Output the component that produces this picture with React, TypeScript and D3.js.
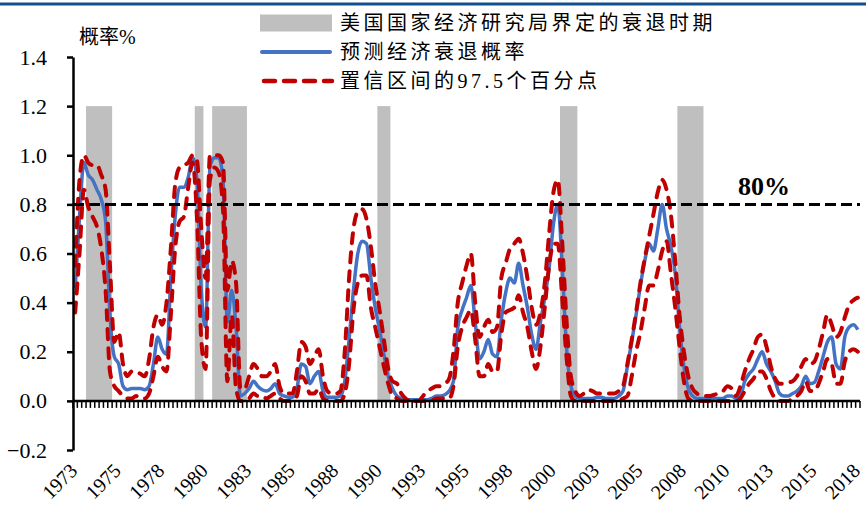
import React, { useEffect, useRef } from 'react';
import * as d3 from 'd3';

// quarterly categories 1973Q1 .. 2018Q1
const quarters: string[] = [];
for (let yr = 1973; yr <= 2018; yr++) {
  for (let q = 1; q <= 4; q++) {
    if (yr === 2018 && q > 1) break;
    quarters.push(`${yr}Q${q}`);
  }
}

const tickYears = ['1973', '1975', '1978', '1980', '1983', '1985', '1988', '1990', '1993', '1995',
  '1998', '2000', '2003', '2005', '2008', '2010', '2013', '2015', '2018'];

const yTicks = [-0.2, 0, 0.2, 0.4, 0.6, 0.8, 1.0, 1.2, 1.4];

// NBER recession periods (as drawn)
const recessionStart = ['1973Q4', '1980Q1', '1981Q1', '1990Q3', '2001Q1', '2007Q4'];
const recessionEnd = ['1975Q1', '1980Q2', '1982Q4', '1991Q1', '2001Q4', '2009Q1'];
const recessionHeight = 1.2;

// predicted recession probability
const prob = [
  0.46, 0.75, 0.97, 0.92, 0.90, 0.86, 0.82, 0.73, 0.35, 0.18,
  0.15, 0.06, 0.045, 0.05, 0.05, 0.05, 0.045, 0.06, 0.15, 0.26,
  0.21, 0.19, 0.50, 0.75, 0.87, 0.87, 0.91, 0.99, 0.90, 0.45,
  0.30, 0.95, 0.99, 0.99, 0.90, 0.32, 0.45, 0.30, 0.02, 0.03,
  0.05, 0.08, 0.06, 0.045, 0.04, 0.05, 0.07, 0.03, 0.02, 0.015,
  0.015, 0.05, 0.15, 0.14, 0.07, 0.10, 0.12, 0.04, 0.015, 0.015,
  0.015, 0.02, 0.08, 0.25, 0.45, 0.60, 0.65, 0.64, 0.50, 0.38,
  0.29, 0.19, 0.10, 0.05, 0.02, 0.01, 0.005, 0.005, 0.005, 0.005,
  0.005, 0.005, 0.01, 0.02, 0.02, 0.025, 0.04, 0.08, 0.30, 0.37,
  0.42, 0.47, 0.32, 0.17, 0.20, 0.25, 0.19, 0.18, 0.33, 0.44,
  0.50, 0.48, 0.56, 0.47, 0.38, 0.27, 0.21, 0.32, 0.42, 0.54,
  0.72, 0.80, 0.55, 0.22, 0.06, 0.02, 0.01, 0.01, 0.01, 0.01,
  0.015, 0.015, 0.01, 0.01, 0.01, 0.02, 0.04, 0.14, 0.24, 0.35,
  0.47, 0.57, 0.64, 0.61, 0.70, 0.80, 0.70, 0.63, 0.52, 0.30,
  0.14, 0.05, 0.02, 0.01, 0.01, 0.01, 0.01, 0.01, 0.01, 0.01,
  0.02, 0.02, 0.01, 0.02, 0.08, 0.11, 0.13, 0.17, 0.20, 0.15,
  0.12, 0.08, 0.03, 0.02, 0.02, 0.03, 0.04, 0.06, 0.10, 0.07,
  0.075, 0.12, 0.18, 0.24, 0.26, 0.15, 0.13, 0.26, 0.30, 0.31, 0.29,
];

// confidence band, upper
const upper = [
  0.55, 0.90, 1.00, 0.97, 0.96, 0.96, 0.92, 0.86, 0.55, 0.24,
  0.28, 0.15, 0.10, 0.12, 0.12, 0.11, 0.10, 0.17, 0.30, 0.35,
  0.31, 0.40, 0.62, 0.88, 0.95, 0.96, 0.97, 1.00, 0.98, 0.70,
  0.50, 1.00, 1.00, 1.00, 0.97, 0.45, 0.57, 0.48, 0.05, 0.05,
  0.10, 0.15, 0.13, 0.10, 0.10, 0.12, 0.15, 0.06, 0.03, 0.03,
  0.03, 0.12, 0.24, 0.22, 0.15, 0.18, 0.21, 0.10, 0.04, 0.03,
  0.03, 0.04, 0.20, 0.50, 0.70, 0.77, 0.78, 0.74, 0.63, 0.48,
  0.37, 0.25, 0.13, 0.08, 0.07, 0.03, 0.01, 0.00, 0.00, 0.00,
  0.02, 0.04, 0.05, 0.06, 0.06, 0.07, 0.09, 0.20, 0.40, 0.48,
  0.55, 0.60, 0.40, 0.26, 0.30, 0.33, 0.28, 0.30, 0.50, 0.56,
  0.62, 0.64, 0.66, 0.60, 0.50, 0.38, 0.31, 0.36, 0.48, 0.68,
  0.85, 0.90, 0.65, 0.33, 0.10, 0.04, 0.02, 0.03, 0.045, 0.04,
  0.03, 0.03, 0.03, 0.03, 0.03, 0.04, 0.06, 0.15, 0.25, 0.36,
  0.48, 0.58, 0.67, 0.76, 0.85, 0.90, 0.86, 0.76, 0.57, 0.35,
  0.20, 0.10, 0.05, 0.03, 0.02, 0.02, 0.02, 0.025, 0.03, 0.04,
  0.06, 0.05, 0.02, 0.06, 0.12, 0.17, 0.21, 0.26, 0.27, 0.22,
  0.14, 0.09, 0.07, 0.07, 0.075, 0.08, 0.10, 0.14, 0.17, 0.15,
  0.16, 0.21, 0.28, 0.35, 0.31, 0.26, 0.28, 0.34, 0.39, 0.41, 0.42,
];

// confidence band, lower
const lower = [
  0.36, 0.60, 0.86, 0.79, 0.75, 0.71, 0.62, 0.45, 0.12, 0.06,
  0.04, 0.02, 0.01, 0.01, 0.02, 0.01, 0.01, 0.03, 0.10, 0.18,
  0.14, 0.12, 0.35, 0.62, 0.73, 0.75, 0.87, 0.97, 0.75, 0.25,
  0.13, 0.90, 0.95, 0.93, 0.78, 0.08, 0.35, 0.05, 0.00, 0.00,
  0.01, 0.03, 0.02, 0.02, 0.01, 0.02, 0.03, 0.01, 0.00, 0.00,
  0.00, 0.02, 0.10, 0.08, 0.03, 0.03, 0.05, 0.01, 0.00, 0.00,
  0.00, 0.00, 0.03, 0.15, 0.37, 0.48, 0.51, 0.51, 0.38, 0.30,
  0.22, 0.14, 0.07, 0.02, 0.01, 0.00, 0.00, 0.00, 0.00, 0.00,
  0.00, 0.00, 0.00, 0.01, 0.01, 0.01, 0.01, 0.06, 0.22, 0.30,
  0.34, 0.37, 0.25, 0.10, 0.10, 0.15, 0.12, 0.12, 0.27, 0.36,
  0.37, 0.38, 0.43, 0.36, 0.30, 0.20, 0.13, 0.22, 0.38, 0.55,
  0.64, 0.64, 0.42, 0.18, 0.02, 0.00, 0.00, 0.00, 0.00, 0.00,
  0.00, 0.00, 0.00, 0.00, 0.00, 0.00, 0.01, 0.02, 0.10, 0.20,
  0.28, 0.38, 0.47, 0.47, 0.53, 0.61, 0.65, 0.52, 0.38, 0.22,
  0.08, 0.01, 0.00, 0.00, 0.00, 0.00, 0.00, 0.00, 0.00, 0.00,
  0.00, 0.00, 0.00, 0.01, 0.04, 0.07, 0.09, 0.12, 0.12, 0.09,
  0.04, 0.01, 0.00, 0.00, 0.00, 0.01, 0.02, 0.04, 0.08, 0.04,
  0.04, 0.07, 0.12, 0.17, 0.15, 0.07, 0.07, 0.16, 0.20, 0.21, 0.20,
];

const threshold = 0.8;

const legendItems = ['美国国家经济研究局界定的衰退时期', '预测经济衰退概率', '置信区间的97.5个百分点'];

const SERIF = "'Liberation Serif', 'Times New Roman', serif";
const CJK = "'Liberation Serif', 'Noto Sans CJK SC', sans-serif";

const RecessionChart = () => {
  const chartRef = useRef<SVGSVGElement>(null);

  useEffect(() => {
    const svg = d3.select(chartRef.current)
      .attr('width', 866)
      .attr('height', 507);

    svg.selectAll('*').remove();

    svg.append('rect').attr('width', 866).attr('height', 507).attr('fill', '#fff');

    // header rule
    svg.append('rect')
      .attr('x', 0).attr('y', 2.5).attr('width', 866).attr('height', 3)
      .attr('fill', '#11508f');

    const x = d3.scaleBand<string>()
      .domain(quarters)
      .range([73, 860])
      .padding(0);
    const bw = x.bandwidth();
    const cx = (i: number) => (x(quarters[i]) as number) + bw / 2;

    const y = d3.scaleLinear()
      .domain([-0.2, 1.4])
      .range([450, 57]);

    // recession shading
    svg.append('g')
      .selectAll('rect')
      .data(recessionStart)
      .enter().append('rect')
      .attr('x', d => x(d) as number)
      .attr('width', (d, i) => (x(recessionEnd[i]) as number) + bw - (x(d) as number))
      .attr('y', y(recessionHeight))
      .attr('height', y(0) - y(recessionHeight))
      .attr('fill', '#bfbfbf');

    const line = d3.line<number>()
      .x((d, i) => cx(i))
      .y(d => y(d))
      .curve(d3.curveMonotoneX);

    svg.append('path')
      .datum(prob)
      .attr('d', line)
      .attr('fill', 'none')
      .attr('stroke', '#4472c4')
      .attr('stroke-width', 3.5)
      .attr('stroke-linejoin', 'round');

    [upper, lower].forEach(series => {
      svg.append('path')
        .datum(series)
        .attr('d', line)
        .attr('fill', 'none')
        .attr('stroke', '#c00000')
        .attr('stroke-width', 4)
        .attr('stroke-linecap', 'round')
        .attr('stroke-dasharray', '10 9');
    });

    // 80% threshold
    svg.append('line')
      .attr('x1', 73).attr('x2', 860)
      .attr('y1', y(threshold)).attr('y2', y(threshold))
      .attr('stroke', '#000')
      .attr('stroke-width', 3)
      .attr('stroke-dasharray', '11 5');

    svg.append('text')
      .attr('x', 738).attr('y', y(threshold) - 9)
      .attr('font-family', SERIF)
      .attr('font-weight', 'bold')
      .attr('font-size', 26)
      .text('80%');

    // y axis
    const yAxis = svg.append('g')
      .attr('transform', 'translate(73,0)')
      .call(d3.axisLeft(y)
        .tickValues(yTicks)
        .tickFormat(d3.format('.1f'))
        .tickSize(6)
        .tickSizeOuter(0)
        .tickPadding(20));
    yAxis.select('.domain').attr('stroke-width', 2.5);
    yAxis.selectAll('.tick line').attr('stroke-width', 2.5);
    yAxis.selectAll('.tick text')
      .attr('font-family', SERIF)
      .attr('font-size', 22)
      .attr('fill', '#000');

    // x axis at zero
    const y0 = y(0);
    svg.append('g')
      .selectAll('line')
      .data(d3.range(quarters.length + 1))
      .enter().append('line')
      .attr('x1', i => (i < quarters.length ? (x(quarters[i]) as number) : 860))
      .attr('x2', i => (i < quarters.length ? (x(quarters[i]) as number) : 860))
      .attr('y1', y0)
      .attr('y2', y0 + 7)
      .attr('stroke', '#000')
      .attr('stroke-width', 1.5);
    svg.append('line')
      .attr('x1', 73).attr('x2', 860)
      .attr('y1', y0).attr('y2', y0)
      .attr('stroke', '#000')
      .attr('stroke-width', 2.5);

    svg.append('g')
      .selectAll('text')
      .data(tickYears)
      .enter().append('text')
      .attr('transform', (d, k) => `translate(${cx(k * 10) + 3.5},472) rotate(-45)`)
      .attr('text-anchor', 'end')
      .attr('font-family', SERIF)
      .attr('font-size', 20)
      .text(d => d);

    // unit label
    svg.append('text')
      .attr('x', 79).attr('y', 44)
      .attr('font-family', CJK)
      .attr('font-size', 20)
      .text('概率%');

    // legend
    const lg = svg.append('g');
    const rowY = [23, 52, 81];
    lg.append('rect')
      .attr('x', 260).attr('y', rowY[0] - 8.5).attr('width', 72).attr('height', 17)
      .attr('fill', '#bfbfbf');
    lg.append('line')
      .attr('x1', 262).attr('x2', 330).attr('y1', rowY[1]).attr('y2', rowY[1])
      .attr('stroke', '#4472c4').attr('stroke-width', 4).attr('stroke-linecap', 'round');
    lg.append('line')
      .attr('x1', 264).attr('x2', 332).attr('y1', rowY[2]).attr('y2', rowY[2])
      .attr('stroke', '#c00000').attr('stroke-width', 4.5)
      .attr('stroke-linecap', 'round').attr('stroke-dasharray', '11 9');
    lg.selectAll('text.item')
      .data(legendItems)
      .enter().append('text')
      .attr('class', 'item')
      .attr('x', 340)
      .attr('y', (d, i) => rowY[i])
      .attr('dy', '0.35em')
      .attr('font-family', CJK)
      .attr('font-size', 20)
      .attr('letter-spacing', 3.5)
      .text(d => d);
  }, []);

  return <svg ref={chartRef} style={{ position: 'absolute', left: 0, top: 0 }}></svg>;
};

export default function App() {
  return <RecessionChart />;
}
